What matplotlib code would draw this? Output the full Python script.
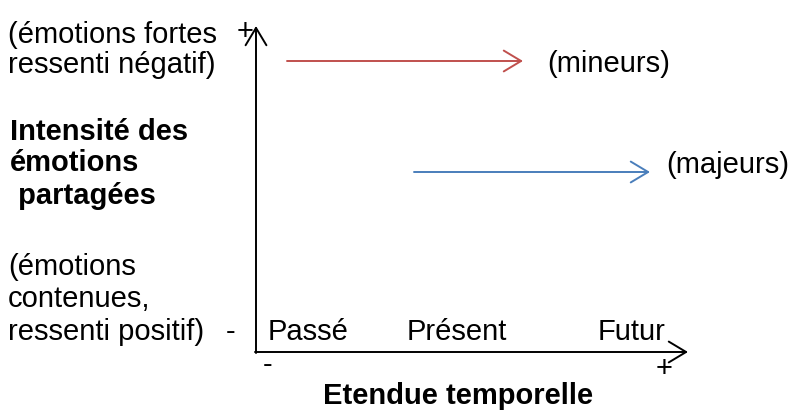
import matplotlib
matplotlib.use("Agg")
import matplotlib.pyplot as plt

plt.rcParams['font.family'] = ['Liberation Sans', 'DejaVu Sans']

# Diagram data (conceptual coordinates on the canvas scale)
groups = ['(mineurs)', '(majeurs)']
arrow_start_x = [287, 414]
arrow_end_x = [523, 650]
arrow_y = [61, 172]
label_x = [547, 666]
label_y = [72, 173]
arrow_colors = ['#C0504D', '#4A7EBB']
time_labels = ['Passé', 'Présent', 'Futur']
time_label_x = [268, 407, 598]

fig = plt.figure(figsize=(7.89, 4.12), dpi=100)
ax = fig.add_axes([0, 0, 1, 1])
ax.set_xlim(0, 789)
ax.set_ylim(412, 0)
ax.axis('off')

fs = 21
aprops = dict(arrowstyle='->,head_length=1.25,head_width=0.75', lw=1.4,
              shrinkA=0, shrinkB=0, mutation_scale=10)

# Axes
ax.annotate('', xy=(256, 26), xytext=(256, 353),
            arrowprops=dict(aprops, color='black'))
ax.annotate('', xy=(688, 352), xytext=(255, 352),
            arrowprops=dict(aprops, color='black'))

# Group arrows
for g, x0, x1, y, c, lx, ly in zip(groups, arrow_start_x, arrow_end_x, arrow_y,
                                   arrow_colors, label_x, label_y):
    ax.annotate('', xy=(x1, y), xytext=(x0, y),
                arrowprops=dict(aprops, color=c))
    ax.text(lx, ly, g, fontsize=fs, va='baseline', ha='left')

# Y axis texts
ax.text(8, 43, '(émotions fortes', fontsize=fs, va='baseline')
ax.text(8, 73, 'ressenti négatif)', fontsize=fs, va='baseline')
ax.text(245, 40, '+', fontsize=fs, va='baseline', ha='center')
ax.text(10, 140, 'Intensité des', fontsize=fs, va='baseline', fontweight='bold')
ax.text(10, 171, 'émotions', fontsize=fs, va='baseline', fontweight='bold')
ax.text(10, 204, ' partagées', fontsize=fs, va='baseline', fontweight='bold')
ax.text(8, 275, '(émotions', fontsize=fs, va='baseline')
ax.text(8, 307, 'contenues,', fontsize=fs, va='baseline')
ax.text(8, 340, 'ressenti positif)', fontsize=fs, va='baseline')
ax.text(231, 340, '-', fontsize=fs, va='baseline', ha='center')

# X axis texts
for lab, x in zip(time_labels, time_label_x):
    ax.text(x, 340, lab, fontsize=fs, va='baseline', ha='left')
ax.text(268, 373, '-', fontsize=fs, va='baseline', ha='center')
ax.text(664, 377, '+', fontsize=fs, va='baseline', ha='center')
ax.text(458, 404, 'Etendue temporelle', fontsize=fs, va='baseline', ha='center',
        fontweight='bold')

fig.savefig('out.png', dpi=100)
